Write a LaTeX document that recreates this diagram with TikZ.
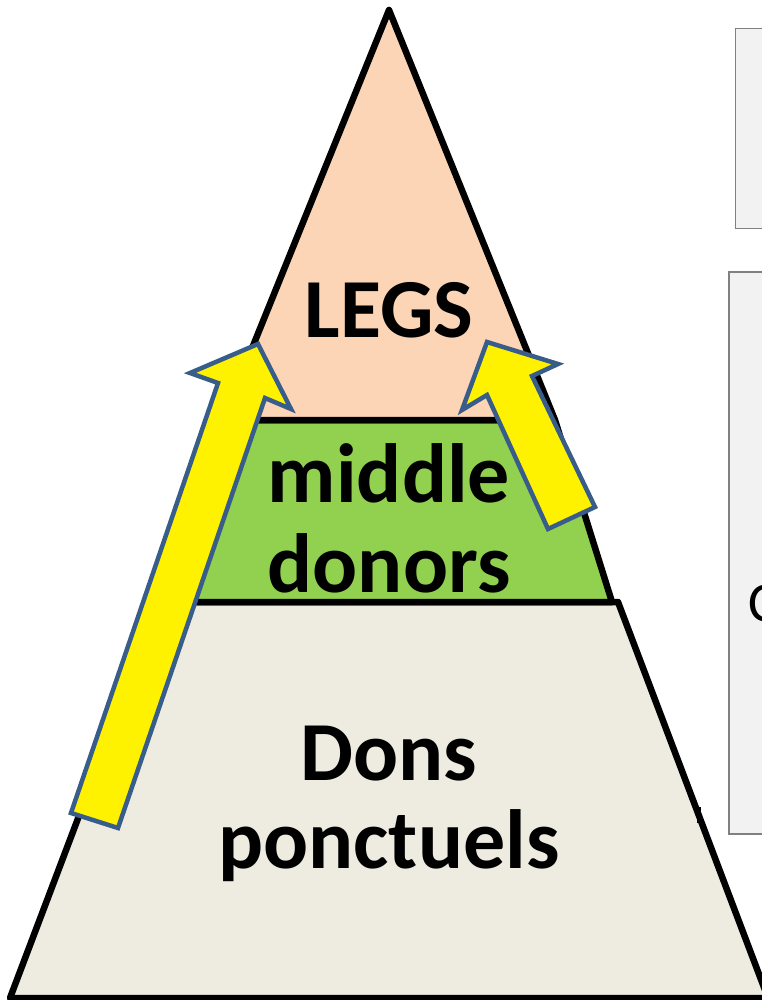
\documentclass[tikz,border=0pt]{standalone}
\usepackage{fontspec}
\setmainfont{Carlito}
\definecolor{peach}{HTML}{FBD5B5}
\definecolor{leaf}{HTML}{92D050}
\definecolor{sand}{HTML}{EEECE1}
\definecolor{arrowedge}{HTML}{385D8A}
\definecolor{boxfill}{HTML}{F2F2F2}
\definecolor{boxedge}{HTML}{808080}
\tikzset{
  layer/.style={draw=black, line width=6.5pt, line join=round},
  upArrow/.style={draw=arrowedge, fill=yellow, line width=4.5pt, line join=miter},
  sidebox/.style={draw=boxedge, fill=boxfill, line width=1.8pt},
  lbl/.style={font=\bfseries\fontsize{84}{90}\selectfont, inner sep=0pt, anchor=base}
}
\begin{document}
\begin{tikzpicture}[x=1pt,y=-1pt]
\useasboundingbox (0,0) rectangle (761,1000);
% side boxes (partly outside the page)
\draw[sidebox] (735.5,28.5) rectangle (790,228.5);
\draw[sidebox] (729,272) rectangle (790,834);
\node[font=\fontsize{56}{60}\selectfont, inner sep=0pt, anchor=base west] (c) at (748,621) {C};
% pyramid layers
\draw[layer, fill=sand] (160,602) -- (618,602) -- (768,998) -- (10,998) -- cycle;
\draw[layer, fill=leaf] (223,420) -- (555,420) -- (612,602) -- (166,602) -- cycle;
\draw[layer, fill=peach] (389,10) -- (555,420) -- (223,420) -- cycle;
\fill[black] (697,807) rectangle (701,823);
% arrows
\draw[upArrow] (71,813) -- (218,383) -- (190,373) -- (258,344) -- (291,409) -- (265,398) -- (118,828) -- cycle;
\draw[upArrow] (548,529) -- (487,395) -- (462,410) -- (487,342) -- (558,364) -- (532,376) -- (595,507) -- cycle;
% labels
\node[lbl] (legs) at (389,337) {LEGS};
\node[lbl] (middle) at (389,502) {middle};
\node[lbl] (donors) at (389,592) {donors};
\node[lbl] (dons) at (389,780) {Dons};
\node[lbl] (ponct) at (389,868) {ponctuels};
\end{tikzpicture}
\end{document}
